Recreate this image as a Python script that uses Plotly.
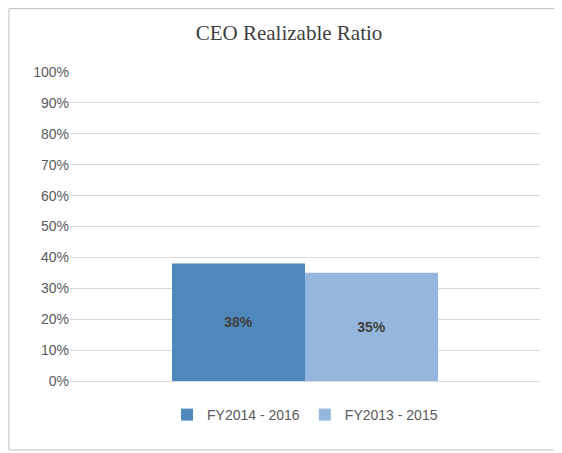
import plotly.graph_objects as go

categories = ["CEO"]
series_names = ["FY2014 - 2016", "FY2013 - 2015"]
values = [[0.38], [0.35]]
colors = ["#4F88BB", "#95B7DE"]

fig = go.Figure()
for name, v, c in zip(series_names, values, colors):
    fig.add_trace(go.Bar(x=categories, y=v, name=name, marker_color=c,
                         marker_line_width=0,
                         text=[f"{x:.0%}" for x in v], textposition="inside",
                         insidetextanchor="middle",
                         textfont=dict(family="Liberation Sans", size=14, color="#404040")))
fig.update_traces(texttemplate="<b>%{text}</b>")
fig.update_layout(
    width=562, height=453, barmode="group", bargap=0.434, bargroupgap=0,
    paper_bgcolor="white", plot_bgcolor="white",
    margin=dict(l=62, r=30, t=64, b=80),
    title=dict(text="CEO Realizable Ratio", x=0.5, y=0.945, xanchor="center", yanchor="middle",
               font=dict(family="Liberation Serif", size=21, color="#404040")),
    yaxis=dict(range=[0, 1], dtick=0.1, tickformat=".0%", gridcolor="#D9D9D9",
               tickfont=dict(family="Liberation Sans", size=14, color="#595959"),
               showline=False, zeroline=False),
    xaxis=dict(showticklabels=False, showline=True, linecolor="#D9D9D9"),
    legend=dict(orientation="h", x=0.5, xanchor="center", y=-0.11, yanchor="middle",
                font=dict(family="Liberation Sans", size=14, color="#595959")),
    shapes=[dict(type="rect", xref="paper", yref="paper", x0=-0.13, x1=1.043,
                 y0=-0.223, y1=1.205, line=dict(color="#BFBFBF", width=1))],
)
fig.write_html("out.html")
